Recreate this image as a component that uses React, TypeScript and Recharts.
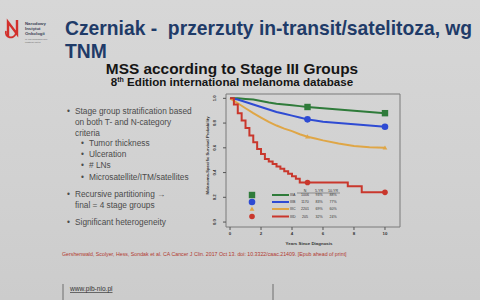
// @ts-nocheck
import { ComposedChart, Line, Scatter, XAxis, YAxis, ReferenceArea, Legend } from 'recharts'

// stage III groups, AJCC 8th edition
const stages = ['IIIA', 'IIIB', 'IIIC', 'IIID']
const stageN = ['1006', '1170', '2201', '205']
const fiveYr = ['93%', '83%', '69%', '32%']
const tenYr = ['88%', '77%', '60%', '24%']
const colors = ['#2f7b3a', '#2e4bd3', '#dfa646', '#c9372c']

const xTicks = [0, 2, 4, 6, 8, 10]
const yTicks = [0, 0.2, 0.4, 0.6, 0.8, 1.0]

// years since diagnosis / survival probability
const tA = [0, 0.5, 1, 1.5, 2, 2.5, 3, 3.5, 4, 4.5, 5, 6, 7, 8, 9, 10]
const sA = [1.0, 1.0, 0.995, 0.99, 0.978, 0.966, 0.957, 0.95, 0.944, 0.937, 0.93, 0.92, 0.91, 0.9, 0.89, 0.88]

const tB = [0, 0.5, 1, 1.5, 2, 2.5, 3, 3.5, 4, 4.5, 5, 5.5, 6, 7, 8, 9, 10]
const sB = [1.0, 0.99, 0.97, 0.95, 0.93, 0.91, 0.89, 0.875, 0.86, 0.845, 0.83, 0.82, 0.81, 0.8, 0.79, 0.78, 0.77]

const tC = [0, 0.5, 1, 1.5, 2, 2.5, 3, 3.5, 4, 4.5, 5, 5.5, 6, 7, 8, 9, 10]
const sC = [1.0, 0.96, 0.92, 0.88, 0.845, 0.81, 0.78, 0.755, 0.735, 0.71, 0.69, 0.675, 0.66, 0.635, 0.615, 0.605, 0.6]

const tD = [0, 0.25, 0.5, 0.75, 1, 1.25, 1.5, 1.75, 2, 2.25, 2.5, 2.75, 3, 3.25, 3.5, 3.75, 4, 4.25, 4.5, 7.6, 8.5, 10]
const sD = [1.0, 0.95, 0.88, 0.82, 0.76, 0.7, 0.645, 0.59, 0.55, 0.51, 0.49, 0.47, 0.45, 0.43, 0.41, 0.39, 0.37, 0.35, 0.32, 0.29, 0.24, 0.24]

// 5-yr and 10-yr markers
const markYears = [5, 10]
const markA = [0.93, 0.88]
const markB = [0.83, 0.77]
const markC = [0.69, 0.6]
const markD = [0.32, 0.24]

const toRows = (ts, ss) => ts.map((t, i) => ({ t, s: ss[i] }))
const curves = [toRows(tA, sA), toRows(tB, sB), toRows(tC, sC), toRows(tD, sD)]
const marks = [markA, markB, markC, markD].map(m => toRows(markYears, m))

const font = '"Liberation Sans", Arial, sans-serif'

function Marker({ kind, cx, cy, fill }) {
  if (kind === 0) return <rect x={cx - 3.2} y={cy - 3.2} width={6.4} height={6.4} fill={fill} />
  if (kind === 1) return <circle cx={cx} cy={cy} r={3.3} fill={fill} />
  if (kind === 2) return <path d={`M${cx},${cy - 2.4} L${cx + 2.4},${cy + 1.8} L${cx - 2.4},${cy + 1.8} Z`} fill={fill} />
  return <circle cx={cx} cy={cy} r={2.8} fill={fill} />
}

function YTick({ x, y, payload }) {
  const tx = x - 5
  return (
    <text x={tx} y={y} transform={`rotate(-90 ${tx} ${y})`} textAnchor="middle" fontSize={4.3} fontWeight="bold" fill="#333" fontFamily={font}>
      {payload.value.toFixed(1)}
    </text>
  )
}

function YLabel({ viewBox }) {
  const x = viewBox.x + 2.8
  const y = viewBox.y + viewBox.height / 2 - 5
  return (
    <text x={x} y={y} transform={`rotate(-90 ${x} ${y})`} textAnchor="middle" fontSize={4.2} fontWeight="bold" fill="#333" fontFamily={font}>
      Melanoma-Specific Survival Probability
    </text>
  )
}

function XLabel({ viewBox }) {
  return (
    <text x={viewBox.x + viewBox.width / 2 - 4} y={viewBox.y + 17.5} textAnchor="middle" fontSize={4.4} fontWeight="bold" fill="#333" fontFamily={font}>
      Years Since Diagnosis
    </text>
  )
}

function StageTable() {
  const rowY = [9, 16, 23, 30.5]
  return (
    <svg width={100} height={34} style={{ overflow: 'visible' }} fontFamily={font}>
      <g fontSize={3.6} fill="#333" textAnchor="middle">
        <text x={59} y={5.8}>N</text>
        <text x={73} y={5.8}>5-YR</text>
        <text x={87} y={5.8}>10-YR</text>
      </g>
      <line x1={51} x2={94} y1={7} y2={7} stroke="#444" strokeWidth={0.5} />
      {stages.map((s, i) => (
        <g key={s}>
          <Marker kind={i} cx={6} cy={rowY[i]} fill={colors[i]} />
          <line x1={26} x2={43} y1={rowY[i]} y2={rowY[i]} stroke={colors[i]} strokeWidth={2} />
          <g fontSize={3.6} fill="#333">
            <text x={44} y={rowY[i] + 1.3}>{s}</text>
            <text x={59} y={rowY[i] + 1.3} textAnchor="middle">{stageN[i]}</text>
            <text x={73} y={rowY[i] + 1.3} textAnchor="middle">{fiveYr[i]}</text>
            <text x={87} y={rowY[i] + 1.3} textAnchor="middle">{tenYr[i]}</text>
          </g>
        </g>
      ))}
    </svg>
  )
}

function Slide() {
  const bullets = [
    { x: 75, y: 113.5, dot: true, t: 'Stage group stratification based' },
    { x: 75, y: 124.5, t: 'on both T- and N-category' },
    { x: 75, y: 135.5, t: 'criteria' },
    { x: 89, y: 146, dot: true, t: 'Tumor thickness' },
    { x: 89, y: 157, dot: true, t: 'Ulceration' },
    { x: 89, y: 168, dot: true, t: '# LNs' },
    { x: 89, y: 180, dot: true, t: 'Microsatellite/ITM/satellites' },
    { x: 75, y: 197, dot: true, t: 'Recursive partitioning \u2192' },
    { x: 75, y: 208, t: 'final = 4 stage groups' },
    { x: 75, y: 225, dot: true, t: 'Significant heterogeneity' },
  ]
  return (
    <svg width={480} height={300} style={{ position: 'absolute', left: 0, top: 0 }} fontFamily={font}>
      {/* logo */}
      <path d="M8,36 L8,22 L17,34 L17,20" stroke="#d2302c" strokeWidth={2.4} fill="none" />
      <path d="M6,31 C4,38 14,40 16,33" stroke="#d2302c" strokeWidth={1.8} fill="none" />
      <g fontSize={4.3} fontWeight="bold" fill="#3a3f55">
        <text x={25} y={25}>Narodowy</text>
        <text x={25} y={30}>Instytut</text>
        <text x={25} y={35}>Onkologii</text>
      </g>
      <g fontSize={1.8} fill="#666">
        <text x={25} y={39.5}>im. Marii Skłodowskiej-Curie</text>
        <text x={25} y={42.5}>Państwowy Instytut</text>
      </g>
      {/* title */}
      <g fontSize={19.3} fontWeight="bold" fill="#1f3b68">
        <text x={65} y={35} style={{ whiteSpace: 'pre' }}>Czerniak -  przerzuty in-transit/satelitoza, wg</text>
        <text x={65} y={58}>TNM</text>
      </g>
      <text x={232} y={73.5} textAnchor="middle" fontSize={15.4} fontWeight="bold" fill="#151515">MSS according to Stage III Groups</text>
      <text x={232} y={86} textAnchor="middle" fontSize={11.6} fontWeight="bold" fill="#151515">
        8<tspan fontSize={7} dy={-4}>th</tspan><tspan dy={4}> Edition international melanoma database</tspan>
      </text>
      {/* bullets */}
      <g fontSize={8.3} fill="#4b4b4b">
        {bullets.map((b, i) => (
          <g key={i}>
            {b.dot && <text x={b.x - 8} y={b.y}>•</text>}
            <text x={b.x} y={b.y}>{b.t}</text>
          </g>
        ))}
      </g>
      {/* citation */}
      <text x={62} y={256} fontSize={5.25} fill="#b23a2f">
        Gershenwald, Scolyer, Hess, Sondak et al. CA Cancer J Clin. 2017 Oct 13. doi: 10.3322/caac.21409. [Epub ahead of print]
      </text>
      {/* footer */}
      <line x1={63} x2={63} y1={284} y2={300} stroke="#555" strokeWidth={0.8} />
      <line x1={273} x2={273} y1={284} y2={300} stroke="#555" strokeWidth={0.8} />
      <text x={70} y={291} fontSize={6.6} fill="#333" textDecoration="underline">www.pib-nio.pl</text>
    </svg>
  )
}

export default function App() {
  return (
    <div style={{ position: 'fixed', left: 0, top: 0, width: 480, height: 300, overflow: 'hidden', background: 'linear-gradient(180deg, #d7d7d7 0%, #d1d1d1 60%, #cccccc 100%)', fontFamily: font }}>
      <div style={{ position: 'absolute', left: 0, top: 0 }}>
        <ComposedChart width={480} height={300} margin={{ top: 94, right: 80, bottom: 53, left: 206 }}>
          <XAxis dataKey="t" type="number" domain={[-0.26, 10.97]} ticks={xTicks} interval={0} allowDataOverflow axisLine={false} tickLine={{ stroke: '#555' }} tickSize={3} height={20} tick={{ fontSize: 4.4, fill: '#333', fontWeight: 'bold', fontFamily: font }} label={<XLabel />} />
          <YAxis dataKey="s" type="number" domain={[-0.04, 1.035]} ticks={yTicks} interval={0} allowDataOverflow axisLine={false} tickLine={{ stroke: '#555' }} tickSize={3} width={20} tick={<YTick />} label={<YLabel />} />
          <ReferenceArea x1={-0.26} x2={10.97} y1={-0.04} y2={1.035} fill="none" stroke="#7a7a7a" strokeWidth={1} ifOverflow="visible" />
          {curves.map((rows, i) => (
            <Line key={stages[i]} data={rows} dataKey="s" name={stages[i]} type={i === 3 ? 'stepAfter' : 'linear'} stroke={colors[i]} strokeWidth={2} dot={false} activeDot={false} isAnimationActive={false} />
          ))}
          {marks.map((rows, i) => (
            <Scatter key={'m' + stages[i]} data={rows} dataKey="s" legendType="none" shape={(p) => <Marker kind={i} cx={p.cx} cy={p.cy} fill={colors[i]} />} isAnimationActive={false} />
          ))}
          <Legend align="center" verticalAlign="middle" layout="horizontal" content={() => <StageTable />} wrapperStyle={{ left: 246, top: 186, width: 100, height: 34 }} />
        </ComposedChart>
      </div>
      <Slide />
    </div>
  )
}
